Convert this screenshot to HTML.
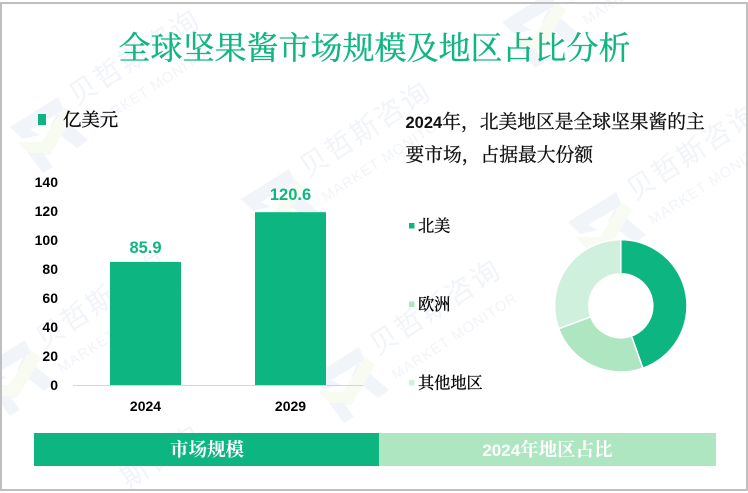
<!DOCTYPE html>
<html lang="zh">
<head>
<meta charset="utf-8">
<title>全球坚果酱市场规模及地区占比分析</title>
<style>
html,body{margin:0;padding:0;background:#fff;width:748px;height:493px;overflow:hidden}
svg{display:block;overflow:hidden}
.cjk{font-family:"Liberation Serif","Noto Serif CJK SC",serif}
.num{font-family:"Liberation Sans","Noto Sans CJK SC",sans-serif;font-weight:700;stroke:none}
.wm{font-family:"Liberation Sans","Noto Sans CJK SC",sans-serif}
</style>
</head>
<body>
<svg id="chart" xmlns="http://www.w3.org/2000/svg" width="748" height="493" viewBox="0 0 748 493">
  <rect x="0" y="0" width="748" height="493" fill="#fff"/>
  <g id="watermarks"></g>
  <rect x="1" y="3" width="746" height="487" fill="none" stroke="#bfbfbf" stroke-width="2"/>
  <text class="cjk" x="374.5" y="59" text-anchor="middle" font-size="32" fill="#10b581" stroke="#10b581" stroke-width="0.35">全球坚果酱市场规模及地区占比分析</text>
  <rect x="38" y="114" width="8" height="11" fill="#0db580"/>
  <text class="cjk" x="63" y="126" font-size="18.4" fill="#000" stroke="#000" stroke-width="0.3">亿美元</text>
  <text class="cjk" x="405.5" y="128" font-size="18.75" fill="#111" stroke="#111" stroke-width="0.3"><tspan class="num" font-size="16.5">2024</tspan>年，北美地区是全球坚果酱的主</text>
  <text class="cjk" x="405.5" y="161" font-size="18.75" fill="#111" stroke="#111" stroke-width="0.3">要市场，占据最大份额</text>
  <g id="bars"></g>
  <g id="donut"></g>
  <g id="legend"></g>
  <rect x="34" y="433" width="345" height="33" fill="#0db580"/>
  <text class="cjk" x="207" y="456" text-anchor="middle" font-size="18.5" font-weight="700" fill="#fff">市场规模</text>
  <rect x="379" y="433" width="337" height="33" fill="#aee6c2"/>
  <text class="cjk" x="547.5" y="456" text-anchor="middle" font-size="18.5" font-weight="700" fill="#fff"><tspan class="num" font-size="17">2024</tspan>年地区占比</text>
</svg>
<script>
// Chart data
const categories = ['2024', '2029'];
const marketValues = [85.9, 120.6];
const yTicks = [0, 20, 40, 60, 80, 100, 120, 140];
const regionNames = ['北美', '欧洲', '其他地区'];
const regionShares = [44.6, 24.8, 30.6];
const regionColors = ['#0db580', '#aee6c2', '#d0f0de'];

const NS = 'http://www.w3.org/2000/svg';
function mk(tag, parent, props, txt) {
  const el = document.createElementNS(NS, tag);
  for (const k in props) el.setAttribute(k, props[k]);
  if (txt !== undefined) el.textContent = txt;
  parent.appendChild(el);
  return el;
}

// Axis functions
const baseY = 385;
const barScale = v => baseY - v * 1.433;
const labelScale = v => 384 - v * 1.525;
const tickScale = v => baseY - v * 1.45;
const plotLeft = 73, plotRight = 363;
const bandW = (plotRight - plotLeft) / categories.length;
const bandX = i => plotLeft + bandW * i + bandW / 2;
const barW = 71;

const bars = document.getElementById('bars');
yTicks.forEach(t => {
  const el = mk('text', bars, {class:'num', x:58, y:tickScale(t)+5, 'text-anchor':'end', 'font-size':14, fill:'#000'}, t);
  
  
});
categories.forEach((c, i) => {
  const v = marketValues[i];
  const r = mk('rect', bars, {x:bandX(i)-barW/2, y:barScale(v), width:barW, height:baseY-barScale(v), fill:'#0db580'});
  
  
  const lbl = mk('text', bars, {class:'num', x:bandX(i), y:labelScale(v), 'text-anchor':'middle', 'font-size':16.5, fill:'#10b581'}, v);
  
  
  const xl = mk('text', bars, {class:'num', x:bandX(i), y:411, 'text-anchor':'middle', 'font-size':14, fill:'#000'}, c);
  
  
});
const axis = mk('line', bars, {x1:plotLeft, x2:plotRight, y1:baseY+0.5, y2:baseY+0.5, stroke:'#d4d4d4', 'stroke-width':1});



// Donut
const donut = document.getElementById('donut');
const cx = 620.8, cy = 305.8, rO = 66.2, rI = 32;
const total = regionShares.reduce((a, b) => a + b, 0);
function pt(r, a) { return [cx + r * Math.sin(a), cy - r * Math.cos(a)]; }
let acc = 0;
regionShares.forEach((s, i) => {
  const a0 = acc / total * 2 * Math.PI;
  acc += s;
  const a1 = acc / total * 2 * Math.PI;
  const large = (a1 - a0) > Math.PI ? 1 : 0;
  const p0 = pt(rO, a0), p1 = pt(rO, a1), p2 = pt(rI, a1), p3 = pt(rI, a0);
  const d = 'M' + p0 + 'A' + rO + ' ' + rO + ' 0 ' + large + ' 1 ' + p1 + 'L' + p2 + 'A' + rI + ' ' + rI + ' 0 ' + large + ' 0 ' + p3 + 'Z';
  const slice = mk('path', donut, {d:d, fill:regionColors[i], stroke:'#fff', 'stroke-width':1.5});
  
  
});

// Donut legend
const legend = document.getElementById('legend');
const legendRowY = i => 225.5 + i * 78.5;
regionNames.forEach((n, i) => {
  const sw = mk('rect', legend, {x:409, y:legendRowY(i)-2.5, width:5.5, height:5.5, fill:regionColors[i]});
  
  
  const t = mk('text', legend, {class:'cjk', x:418, y:legendRowY(i)+6, 'font-size':16.2, fill:'#000', stroke:'#000', 'stroke-width':0.3}, n);
  
  
});

// Watermarks: anchor = centre of the first character
const wmAnchors = [[83,90],[314,162],[641,185],[50,333],[384,340],[575,-15]];
const wmLayer = document.getElementById('watermarks');
const wmBlue = '#f1f5fa', wmYellow = '#f8fbf2', wmText = '#f1f4f9';
wmAnchors.forEach(a => {
  const g = mk('g', wmLayer, {transform:'translate(' + a[0] + ' ' + a[1] + ')'});
  
  
  const lx = -33, ly = 45;
  const shift = pts => pts.map(p => (p[0]+lx) + ',' + (p[1]+ly)).join(' ');
  mk('polygon', g, {points:shift([[-40,-8],[8,-38],[14,-25],[-20,-5],[-10,0],[-28,4]]), fill:wmBlue});
  mk('polygon', g, {points:shift([[7,-22],[38,5],[27,13],[0,-8]]), fill:wmBlue});
  mk('polygon', g, {points:shift([[-32,7],[-8,7],[14,-28],[24,-20],[0,20],[-20,20]]), fill:wmYellow});
  mk('polygon', g, {points:shift([[-22,18],[-7,18],[3,32],[-7,38]]), fill:wmBlue});
  const r = mk('g', g, {transform:'rotate(-33)'});
  mk('text', r, {class:'wm', x:-14, y:10, 'font-size':28, 'letter-spacing':2, fill:wmText}, '贝哲斯咨询');
  mk('text', r, {class:'wm', x:-12, y:40, 'font-size':14.5, 'letter-spacing':1, fill:wmText}, 'MARKET MONITOR');
});
// Bottom watermark fragment, cut by the slide edge in the reference
const wmBottom = mk('text', wmLayer, {class:'wm', transform:'translate(128 489) rotate(-33)', 'font-size':28, 'letter-spacing':2, fill:wmText}, '斯咨询');


</script>
</body>
</html>
